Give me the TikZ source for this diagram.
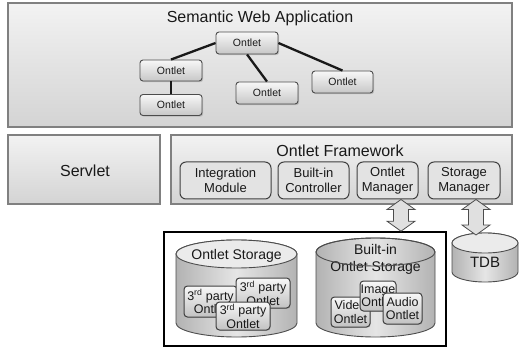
\documentclass[tikz,border=0pt]{standalone}
\usepackage{fontspec}
\setmainfont{Liberation Sans}
\usetikzlibrary{shadows,calc}

\tikzset{
  every node/.style={text=black!90},
  panel/.style={draw=black!50, line width=1.3pt, top color=black!5, bottom color=black!17},
  ontlet/.style={draw=black!70, line width=0.9pt, rounded corners=3pt,
    top color=black!3, bottom color=black!22, inner sep=0pt,
    font=\fontsize{10.5}{12}\selectfont,
    drop shadow={shadow xshift=1.2pt, shadow yshift=-1.2pt, opacity=0.35}},
  module/.style={draw=black!75, line width=1pt, rounded corners=6pt,
    fill=black!11, inner sep=0pt, align=center,
    font=\fontsize{13}{15}\selectfont},
  item/.style={draw=black!75, line width=1pt, rounded corners=3.5pt,
    top color=black!3, bottom color=black!24, inner sep=0pt, align=center,
    font=\fontsize{12.5}{13.5}\selectfont,
    drop shadow={shadow xshift=0.8pt, shadow yshift=-0.8pt, opacity=0.3}},
  link/.style={line width=2.3pt, black!90},
  dbl/.style={draw=black!70, line width=0.8pt, fill=black!12},
  cylbody/.style={draw=black!70, line width=0.9pt, left color=black!30, right color=black!30, middle color=black!10},
  cyltop/.style={draw=black!70, line width=0.9pt, fill=black!8},
  big/.style={font=\fontsize{16}{18}\selectfont},
}

% vertical double-headed block arrow between two points
\newcommand\blockarrow[2]{%
  \draw[dbl] (#1) -- ++(14,10) -- ++(-6.5,0) -- ($(#2)+(7.5,-10)$) -- ++(6.5,0)
    -- (#2) -- ++(-14,-10) -- ++(6.5,0) -- ($(#1)+(-7.5,10)$) -- ++(-6.5,0) -- cycle;}

\begin{document}
\begin{tikzpicture}[x=1pt,y=-1pt]
\useasboundingbox (0,0) rectangle (521,347);

% application layer
\node[panel, minimum width=504pt, minimum height=124pt] (app) at (260,65) {};
\node[big] (apptitle) at (260,18.5) {Semantic Web Application};

\node[ontlet, minimum width=62pt, minimum height=22pt] (o1) at (247,43) {Ontlet};
\node[ontlet, minimum width=62pt, minimum height=21pt] (o2) at (171,70.5) {Ontlet};
\node[ontlet, minimum width=62pt, minimum height=21pt] (o3) at (171,105) {Ontlet};
\node[ontlet, minimum width=62pt, minimum height=22pt] (o4) at (267,93) {Ontlet};
\node[ontlet, minimum width=61pt, minimum height=22pt] (o5) at (342.5,82) {Ontlet};

\draw[link] (o1.west) -- (o2.north);
\draw[link] (o1.south) -- (o4.north);
\draw[link] (o1.east) -- (o5.north);
\draw[link] (o2.south) -- (o3.north);

% servlet and framework layer
\node[panel, minimum width=152pt, minimum height=69pt] (servlet) at (84,169.5) {};
\node[big] (servlettext) at (85,171) {Servlet};

\node[panel, minimum width=341pt, minimum height=69pt] (fw) at (341.5,169.5) {};
\node[big] (fwtitle) at (340,151) {Ontlet Framework};

\node[module, minimum width=91pt, minimum height=37pt] (im) at (225.5,180.5) {Integration\\Module};
\node[module, minimum width=71pt, minimum height=37pt] (bc) at (313.5,180.5) {Built-in\\Controller};
\node[module, minimum width=61pt, minimum height=37pt] (om) at (387.5,180.5) {Ontlet\\Manager};
\node[module, minimum width=72pt, minimum height=37pt] (sm) at (464,180.5) {Storage\\Manager};

% storage container
\node[draw=black, line width=1.6pt, fill=white, minimum width=282pt, minimum height=114pt] (store) at (305,289) {};

% ontlet storage cylinder
\path[cylbody] (176,254) -- (176,323) arc[start angle=180, end angle=360, x radius=60.5pt, y radius=14pt]
  -- (297,254) arc[start angle=0, end angle=180, x radius=60.5pt, y radius=14pt] -- cycle;
\path[cyltop] (236.5,254) ellipse[x radius=60.5pt, y radius=14pt];
\node[font=\fontsize{14}{16}\selectfont] (ostitle) at (236.5,256) {Ontlet Storage};

\node[item, minimum width=53pt, minimum height=31pt] (p1) at (210.5,301.5) {3\textsuperscript{rd} party\\Ontlet};
\node[item, minimum width=54pt, minimum height=30pt] (p2) at (263,293) {3\textsuperscript{rd} party\\Ontlet};
\node[item, minimum width=54pt, minimum height=28pt] (p3) at (243,316) {3\textsuperscript{rd} party\\Ontlet};

% built-in storage cylinder
\path[cylbody] (316,252) -- (316,323) arc[start angle=180, end angle=360, x radius=59.5pt, y radius=14pt]
  -- (435,252) arc[start angle=0, end angle=180, x radius=59.5pt, y radius=14pt] -- cycle;
\node[font=\fontsize{14}{16}\selectfont, align=center] (bstitle) at (375.5,259.5) {Built-in\\[1pt]Ontlet Storage};
\path[draw=black!70, line width=0.9pt] (375.5,252) ellipse[x radius=59.5pt, y radius=14pt];

\node[item, minimum width=39pt, minimum height=30pt] (vid) at (350.5,312) {Video\\Ontlet};
\node[item, minimum width=36pt, minimum height=30pt] (img) at (378,296) {Image\\Ontlet};
\node[item, minimum width=39pt, minimum height=31pt] (aud) at (402.5,308.5) {Audio\\Ontlet};

% triple store cylinder
\path[cylbody] (452,243) -- (452,272) arc[start angle=180, end angle=360, x radius=33pt, y radius=10pt]
  -- (518,243) arc[start angle=0, end angle=180, x radius=33pt, y radius=10pt] -- cycle;
\path[cyltop] (485,243) ellipse[x radius=33pt, y radius=10pt];
\node[font=\fontsize{15}{17}\selectfont] (tdb) at (485,262) {TDB};
\coordinate (tdbtop) at (476,235);

% block arrows
\coordinate (omout) at ($(om.south)+(13.5,0)$);
\coordinate (storein) at (omout |- store.north);
\coordinate (smout) at ($(sm.south)+(12,0)$);
\blockarrow{omout}{storein}
\blockarrow{smout}{tdbtop}
\end{tikzpicture}
\end{document}
